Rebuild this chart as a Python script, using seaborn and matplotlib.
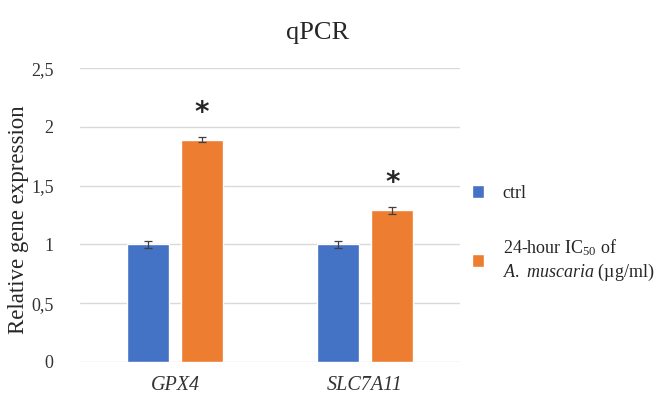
import seaborn as sns
import pandas as pd
import matplotlib
matplotlib.use("Agg")
import matplotlib.pyplot as plt

genes = ["GPX4", "SLC7A11"]
groups = ["ctrl", "24-hour IC$_{50}$ of\n$\\mathit{A.\\ muscaria}$ (µg/ml)"]
ctrl_vals = [1.0, 1.0]
ctrl_err = [0.03, 0.03]
treat_vals = [1.89, 1.29]
treat_err = [0.02, 0.03]
star_y = [2.12, 1.52]
yticks = [0, 0.5, 1, 1.5, 2, 2.5]
ytick_labels = ["0", "0,5", "1", "1,5", "2", "2,5"]

df = pd.DataFrame({
    "gene": genes * 2,
    "group": [groups[0]] * 2 + [groups[1]] * 2,
    "value": ctrl_vals + treat_vals,
    "err": ctrl_err + treat_err,
})

sns.set_style("white")
plt.rcParams["font.family"] = ["Liberation Serif", "DejaVu Serif"]
plt.rcParams["mathtext.fontset"] = "custom"
plt.rcParams["mathtext.rm"] = "Liberation Serif"
plt.rcParams["mathtext.it"] = "Liberation Serif:italic"

fig = plt.figure(figsize=(6.67, 3.96), dpi=100)
ax = fig.add_axes([0.12, 0.086, 0.57, 0.742])

sns.barplot(data=df, x="gene", y="value", hue="group", hue_order=groups,
            palette=["#4472C4", "#ED7D31"], saturation=1, width=0.57, gap=0.22,
            errorbar=None, ax=ax, legend=True, zorder=2)

# error bars and asterisks on top of the bars
for cont, g in zip(ax.containers, groups):
    sub = df[df["group"] == g]
    xs = [p.get_x() + p.get_width() / 2 for p in cont]
    ax.errorbar(xs, sub["value"], yerr=sub["err"], fmt="none",
                ecolor="#404040", elinewidth=0.9, capsize=3, capthick=0.9, zorder=3)
    if g == groups[1]:
        for x, y in zip(xs, star_y):
            ax.text(x, y, "*", ha="center", va="center", fontsize=20,
                    fontweight="bold", family="DejaVu Sans")

ax.set_xlim(-0.5, 1.5)
ax.set_ylim(0, 2.5)
ax.set_yticks(yticks)
ax.set_yticklabels(ytick_labels)
ax.grid(axis="y", color="#d9d9d9", linewidth=1, zorder=0)
ax.set_axisbelow(True)
for s in ax.spines.values():
    s.set_visible(False)
ax.tick_params(axis="y", length=0, labelsize=13, colors="#333333", pad=19)
ax.tick_params(axis="x", length=0, labelsize=14.5, colors="#333333", pad=10)
for lab in ax.get_xticklabels():
    lab.set_fontstyle("italic")
ax.set_xlabel("")
ax.set_ylabel("Relative gene expression", fontsize=16.5)
ax.yaxis.set_label_coords(-0.135, 0.483)
fig.text(0.476, 1 - 33 / 396, "qPCR", ha="center", va="center", fontsize=19)

handles, labels = ax.get_legend_handles_labels()
ax.legend_.remove()
fig.legend(handles, labels, loc="center left", bbox_to_anchor=(0.683, 0.41),
           frameon=False, fontsize=13, handlelength=0.7, handleheight=0.7,
           labelspacing=2.0, handletextpad=1.0)

fig.savefig("out.png", dpi=100)
